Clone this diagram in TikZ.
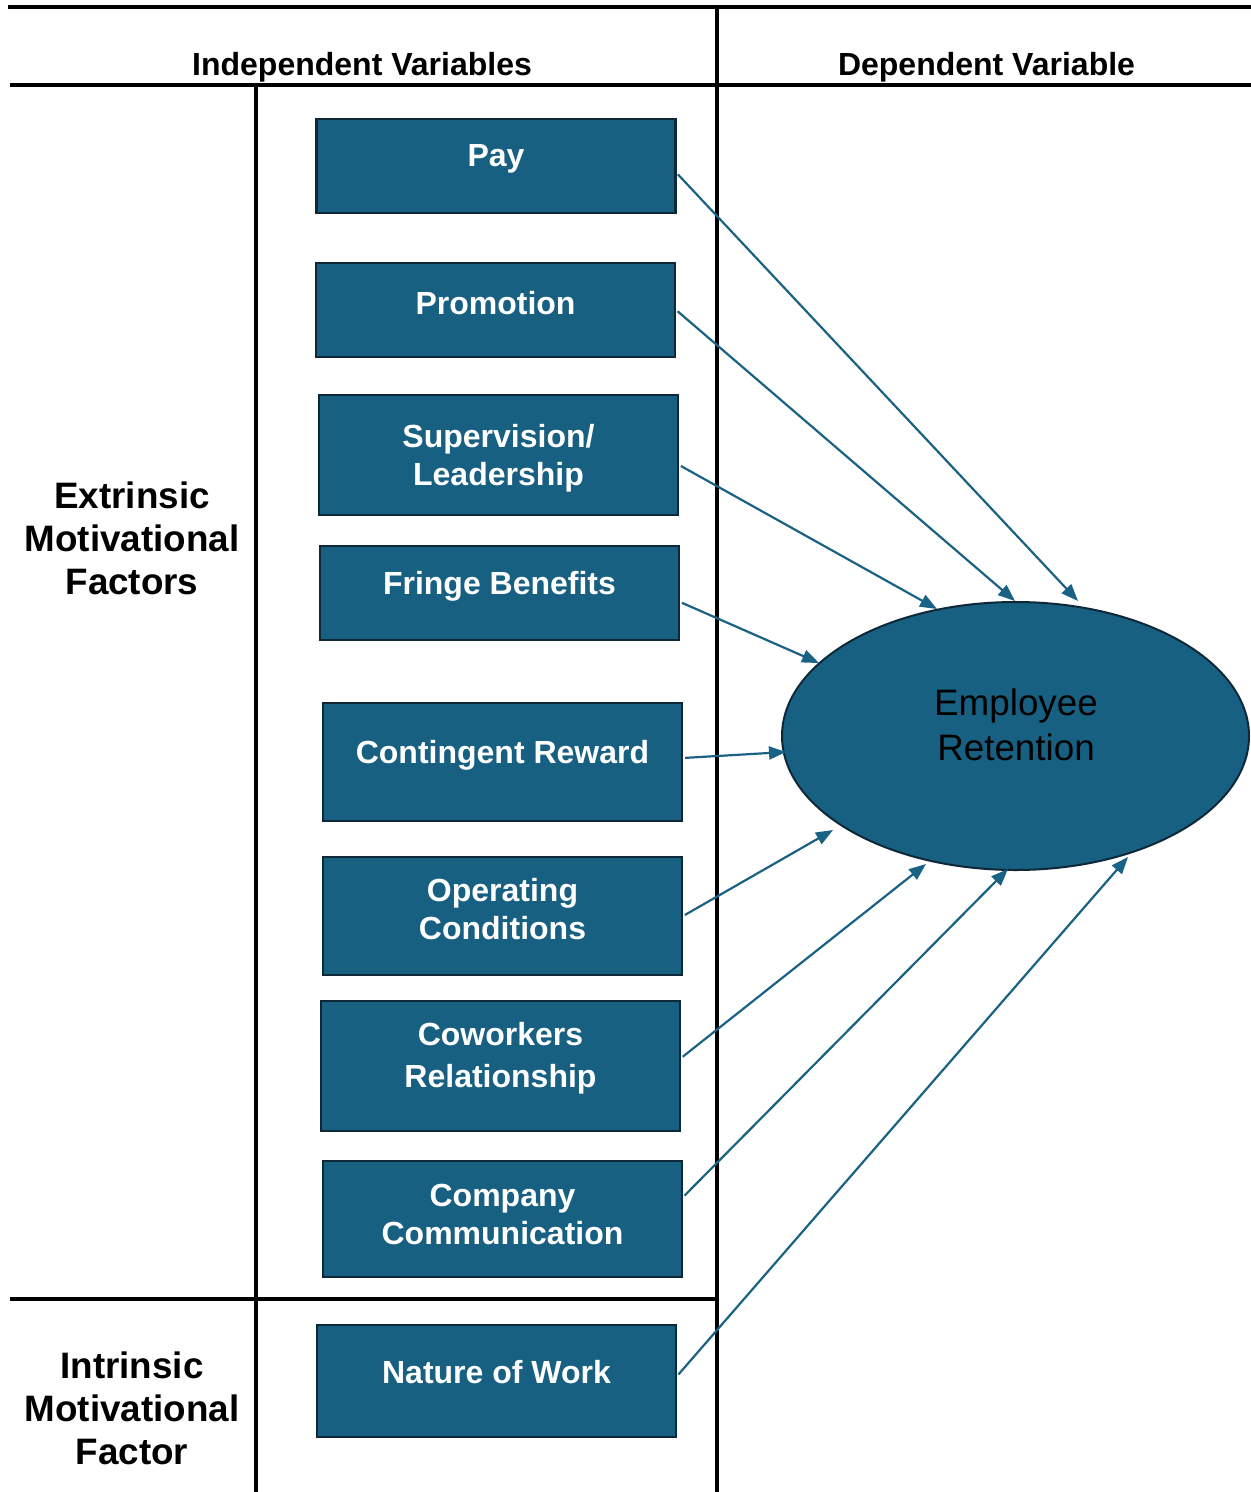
\documentclass[tikz,border=0pt]{standalone}
\usepackage{fontspec}
\setmainfont{Liberation Sans}
\usetikzlibrary{arrows.meta,shapes.geometric}
\definecolor{boxfill}{RGB}{23,96,130}
\definecolor{boxedge}{RGB}{14,40,56}
\definecolor{arrowblue}{RGB}{26,98,132}
\begin{document}
\begin{tikzpicture}[x=0.5pt,y=-0.5pt,
  frame/.style={line width=1.8pt,black},
  factor/.style={rectangle,draw=boxedge,fill=boxfill,line width=1.1pt,inner sep=0pt,minimum width=179.5pt},
  ftext/.style={text=white,font=\bfseries\fontsize{16}{19}\selectfont,align=center,inner sep=0pt},
  head/.style={font=\bfseries\fontsize{16}{19}\selectfont,inner sep=0pt},
  side/.style={font=\bfseries\fontsize{18.4}{21.5}\selectfont,align=center,inner sep=0pt},
  arr/.style={draw=arrowblue,line width=1.1pt,-{Triangle[length=8.5pt,width=6.5pt]},shorten <=1pt}]
\useasboundingbox (0,0) rectangle (1251,1492);

% table rules
\draw[frame,line width=2pt] (8,7) -- (1251,7);
\draw[frame] (10,85) -- (1251,85);
\draw[frame] (717,7) -- (717,1492);
\draw[frame] (256,85) -- (256,1492);
\draw[frame] (10,1299) -- (717,1299);

% column headings
\node[head] (hind) at (362,67) {Independent Variables};
\node[head] (hdep) at (986.5,67) {Dependent Variable};

% row headings
\node[side] (ext) at (132,538) {Extrinsic\\Motivational\\Factors};
\node[side] (int) at (132,1408) {Intrinsic\\Motivational\\Factor};

% factor boxes
\node[factor,minimum height=47pt] (pay) at (496,166) {};
\node[factor,minimum height=47pt] (prom) at (495.5,310) {};
\node[factor,minimum height=60pt] (sup) at (498.5,455) {};
\node[factor,minimum height=47pt] (fringe) at (499.5,593) {};
\node[factor,minimum height=59pt] (cont) at (502.5,762) {};
\node[factor,minimum height=59pt] (oper) at (502.5,916) {};
\node[factor,minimum height=65pt] (cowo) at (500.5,1066) {};
\node[factor,minimum height=58pt] (comp) at (502.5,1219) {};
\node[factor,minimum height=56pt] (nat) at (496.5,1381) {};

% factor labels
\node[ftext] (tpay) at (496,159) {Pay};
\node[ftext] (tprom) at (495.5,303) {Promotion};
\node[ftext] (tsup) at (498.5,458) {Supervision/\\Leadership};
\node[ftext] (tfringe) at (499.5,586) {Fringe Benefits};
\node[ftext] (tcont) at (502.5,755) {Contingent Reward};
\node[ftext] (toper) at (502.5,909) {Operating\\Conditions};
\node[ftext] (tcowo) at (500.5,1058) {Coworkers\\[2pt]Relationship};
\node[ftext] (tcomp) at (502.5,1214) {Company\\Communication};
\node[ftext] (tnat) at (496.5,1372) {Nature of Work};

% outcome
\node[ellipse,draw=boxedge,fill=boxfill,line width=1pt,inner sep=0pt,
      minimum width=233.5pt,minimum height=134pt] (ret) at (1015.5,736) {};
\node[font=\fontsize{18.4}{22.5}\selectfont,align=center,inner sep=0pt] (tret) at (1016,725) {Employee\\Retention};

% arrow heads on the ellipse rim
\coordinate (e1) at (1078,601);
\coordinate (e2) at (1015,601);
\coordinate (e3) at (937,609);
\coordinate (e4) at (819,663);
\coordinate (e5) at (786,752);
\coordinate (e6) at (833,830);
\coordinate (e7) at (926,864);
\coordinate (e8) at (1008,869);
\coordinate (e9) at (1128,857);

\draw[arr] ([yshift=-3.5pt]pay.east) -- (e1);
\draw[arr] (prom.east) -- (e2);
\draw[arr] ([yshift=-5pt]sup.east) -- (e3);
\draw[arr] ([yshift=-4.5pt]fringe.east) -- (e4);
\draw[arr] ([yshift=2pt]cont.east) -- (e5);
\draw[arr] (oper.east) -- (e6);
\draw[arr] ([yshift=4pt]cowo.east) -- (e7);
\draw[arr] ([yshift=11pt]comp.east) -- (e8);
\draw[arr] ([yshift=2.5pt]nat.east) -- (e9);
\end{tikzpicture}
\end{document}
